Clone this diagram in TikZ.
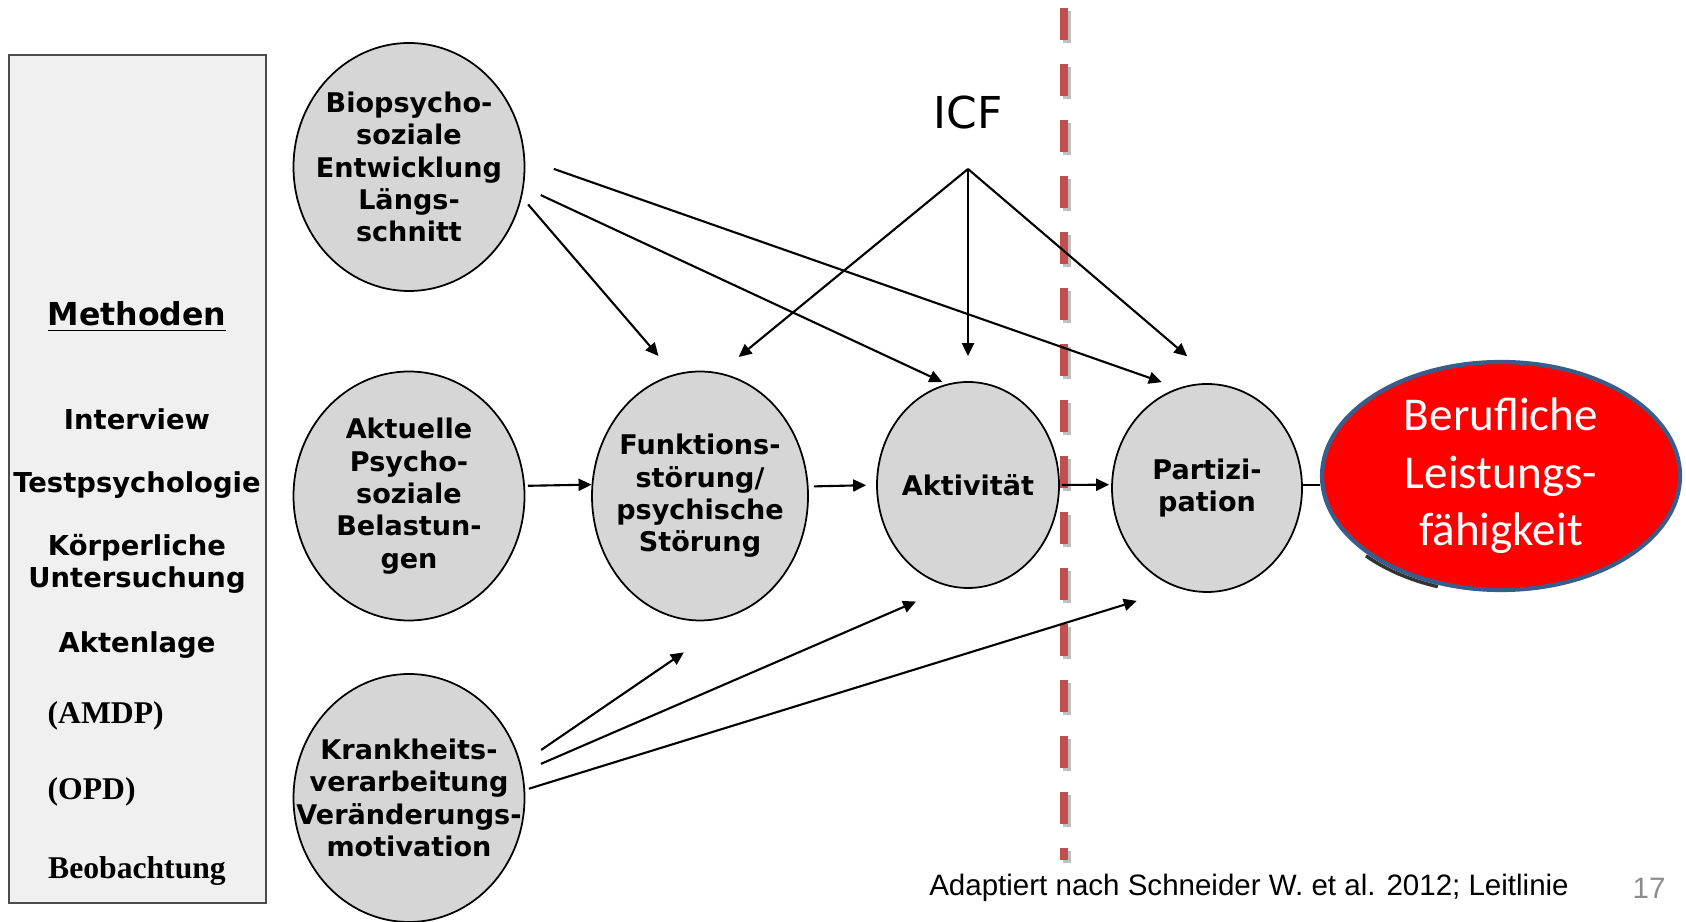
\documentclass[tikz,border=0pt]{standalone}
\usepackage{fontspec}
\newfontfamily\verdfont{DejaVu Sans}
\newfontfamily\timesfont{Liberation Serif}
\newfontfamily\calfont{Carlito}
\newfontfamily\arialfont{Liberation Sans}
\usetikzlibrary{arrows.meta,positioning,shapes.geometric}
\definecolor{cutred}{HTML}{C0504D}
\definecolor{ovalblue}{HTML}{385D8A}
\tikzset{
  bubble/.style ={ellipse,draw,fill=black!16,inner sep=0pt,line width=0.5pt},
  btxt/.style   ={font=\verdfont\bfseries\fontsize{7.7}{9.2}\selectfont,align=center,inner sep=0pt},
  mtxt/.style   ={font=\verdfont\bfseries\fontsize{7.8}{9.2}\selectfont,align=center,inner sep=0pt},
  mser/.style   ={font=\timesfont\bfseries\fontsize{9}{10}\selectfont,inner sep=0pt},
  berutxt/.style={font=\calfont\fontsize{13.4}{16.4}\selectfont,text=white,align=center,inner sep=0pt},
  flow/.style   ={-{Triangle[length=1.3mm,width=1.2mm]},line width=0.6pt},
  cut/.style    ={line width=0.8mm,dash pattern=on 3.2mm off 2.4mm},
}

\begin{document}
\begin{tikzpicture}
  \useasboundingbox (0,0) rectangle (16.86,-9.22);

  % methods panel
  \node[draw=black!70,fill=black!6,line width=0.6pt,minimum width=2.57cm,minimum height=8.48cm]
    (panel) at (1.375,-4.79) {};
  \node[mtxt,font=\verdfont\bfseries\fontsize{9}{10}\selectfont] (mhead) at (1.37,-3.17) {\underline{Methoden}};
  \node[mtxt] (minter) at (1.37,-4.19) {Interview};
  \node[mtxt] (mtest)  at (1.37,-4.85) {Testpsychologie};
  \node[mtxt] (mkoerp) at (1.37,-5.64) {Körperliche\\Untersuchung};
  \node[mtxt] (makten) at (1.37,-6.45) {Aktenlage};
  \node[mser,anchor=west] (mamdp) at (0.47,-7.16) {(AMDP)};
  \node[mser,anchor=west] (mopd)  at (0.47,-7.92) {(OPD)};
  \node[mser] (mbeob) at (1.37,-8.71) {Beobachtung};

  % ICF bubbles
  \node[bubble,minimum width=2.31cm,minimum height=2.48cm,
    label={[btxt]center:Biopsycho-\\soziale\\Entwicklung\\Längs-\\schnitt}] (bio) at (4.09,-1.67) {};
  \node[bubble,minimum width=2.31cm,minimum height=2.49cm,
    label={[btxt]center:Aktuelle\\Psycho-\\soziale\\Belastun-\\gen}] (akt) at (4.09,-4.96) {};
  \node[bubble,minimum width=2.31cm,minimum height=2.48cm,
    label={[btxt]center:Krankheits-\\verarbeitung\\Veränderungs-\\motivation}] (krank) at (4.09,-7.98) {};
  \node[bubble,minimum width=2.16cm,minimum height=2.49cm,
    label={[btxt]center:Funktions-\\störung/\\psychische\\Störung}] (funk) at (7.00,-4.96) {};
  \node[bubble,minimum width=1.82cm,minimum height=2.06cm,
    label={[btxt]center:Aktivität}] (aktiv) at (9.68,-4.85) {};
  \node[bubble,minimum width=1.90cm,minimum height=2.08cm,
    label={[btxt]center:Partizi-\\pation}] (part) at (12.07,-4.88) {};

  \node[font=\verdfont\fontsize{12.5}{14}\selectfont] (icf) at (9.68,-1.13) {ICF};
  \coordinate (icfp) at (9.68,-1.69);

  % dashed border
  \coordinate (cuttop) at (10.64,-0.08);
  \coordinate (cutbot) at (10.64,-8.60);
  \draw[cut,black!25] ([shift={(0.03,-0.03)}]cuttop) -- ([shift={(0.03,-0.03)}]cutbot);
  \draw[cut,cutred] (cuttop) -- (cutbot);

  % arrows
  \draw[flow,shorten <=0.95mm,shorten >=2.4mm] (bio.-15.9) -- (funk.102.7);
  \draw[flow,shorten <=1.87mm,shorten >=0.47mm] (bio.-10) -- (aktiv.102.2);
  \draw[flow,shorten <=3.04mm,shorten >=1.75mm] (bio.4) -- (part.106);
  \draw[flow,shorten >=2.47mm] (icfp) -- (funk.81.8);
  \draw[flow,shorten >=2.5mm] (icfp) -- (aktiv.90);
  \draw[flow,shorten >=4.28mm] (icfp) -- (part.83.1);
  \draw[flow,shorten <=0.28mm] (akt.5.5) -- (funk.174.2);
  \draw[flow,shorten <=0.54mm,shorten >=1mm] (funk.5.8) -- (aktiv.180);
  \draw[flow,shorten <=0.2mm,shorten >=0.2mm] (aktiv.0) -- (part.178);
  \draw[flow,shorten <=2.45mm,shorten >=7.75mm] (krank.17.7) -- (funk.-67.3);
  \draw[flow,shorten <=1.98mm,shorten >=3.7mm] (krank.13.5) -- (aktiv.-100.8);
  \draw[flow,shorten <=0.39mm,shorten >=4.35mm] (krank.4.4) -- (part.-106);

  % result
  \draw[black!80,line width=1pt] ([shift={(14.99,-4.795)}]222:1.79cm and 1.14cm)
    arc[start angle=222,end angle=250,x radius=1.79cm,y radius=1.14cm];
  \node[ellipse,draw=ovalblue,fill=red,line width=1.2pt,minimum width=3.58cm,minimum height=2.28cm,
    inner sep=0pt,label={[berutxt]center:Berufliche\\Leistungs-\\fähigkeit}] (beruf) at (15.01,-4.76) {};
  \draw[line width=0.6pt] (part.2) -- (part.2 -| beruf.west);

  \node[font=\arialfont\fontsize{8.4}{10}\selectfont] (src) at (12.49,-8.88)
    {Adaptiert nach Schneider W. et al. 2012; Leitlinie};
  \node[font=\arialfont\fontsize{8.4}{10}\selectfont,text=black!45] (pgno) at (16.49,-8.88) {17};
\end{tikzpicture}
\end{document}
